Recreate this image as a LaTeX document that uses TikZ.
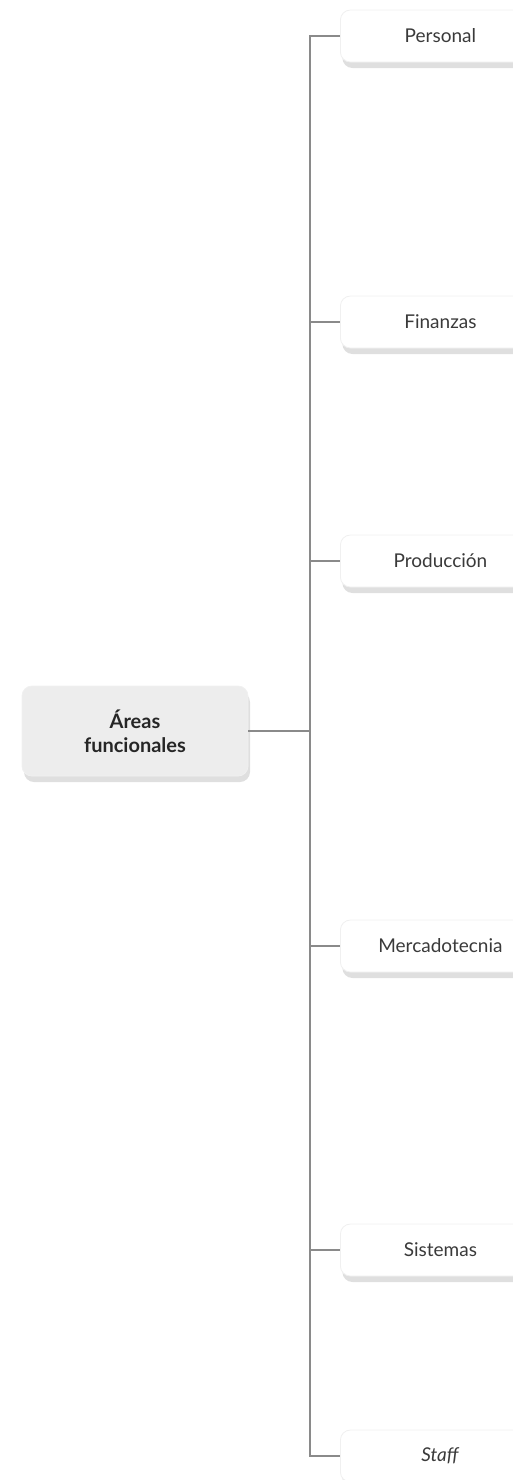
\documentclass[tikz,border=0pt]{standalone}
\usepackage{fontspec}
\setmainfont{Lato}
\usetikzlibrary{shadows}
\definecolor{rootfill}{HTML}{EDEDED}
\definecolor{linkgray}{HTML}{8A8A8A}
\definecolor{textgray}{HTML}{3A3A3A}
\begin{document}
\begin{tikzpicture}[
        x=0.5pt, y=-0.5pt,
        root/.style={rectangle, rounded corners=5pt, fill=rootfill, draw=gray!12,
                   minimum width=113pt, minimum height=45pt, align=center,
                   font=\fontsize{10}{12}\selectfont\bfseries, text=black!85,
                   drop shadow={shadow xshift=1pt, shadow yshift=-3pt, opacity=0.25, fill=gray}},
        area/.style={rectangle, rounded corners=5pt, fill=white, draw=gray!12,
                   minimum width=100pt, minimum height=26pt, anchor=west,
                   font=\fontsize{9.5}{11}\selectfont, text=textgray,
                   drop shadow={shadow xshift=1pt, shadow yshift=-3pt, opacity=0.25, fill=gray}},
        link/.style={linkgray, line width=0.7pt}
    ]
    \useasboundingbox (0,0) rectangle (513,1480);
    \clip (0,0) rectangle (513,1480);

    \node[root] (areas) at (135,731) {Áreas\\funcionales};
    \coordinate (trunk) at (310,731);

    \node[area] (personal) at (340,36) {Personal};
    \node[area] (finanzas) at (340,322) {Finanzas};
    \node[area] (produccion) at (340,561) {Producción};
    \node[area] (mercadotecnia) at (340,946) {Mercadotecnia};
    \node[area] (sistemas) at (340,1250) {Sistemas};
    \node[area] (staff) at (340,1456) {\textit{Staff}};

    \draw[link] (areas.east) -- (trunk);
    \draw[link] (trunk) |- (personal.west);
    \draw[link] (trunk) |- (finanzas.west);
    \draw[link] (trunk) |- (produccion.west);
    \draw[link] (trunk) |- (mercadotecnia.west);
    \draw[link] (trunk) |- (sistemas.west);
    \draw[link] (trunk) |- (staff.west);

\end{tikzpicture}
\end{document}
